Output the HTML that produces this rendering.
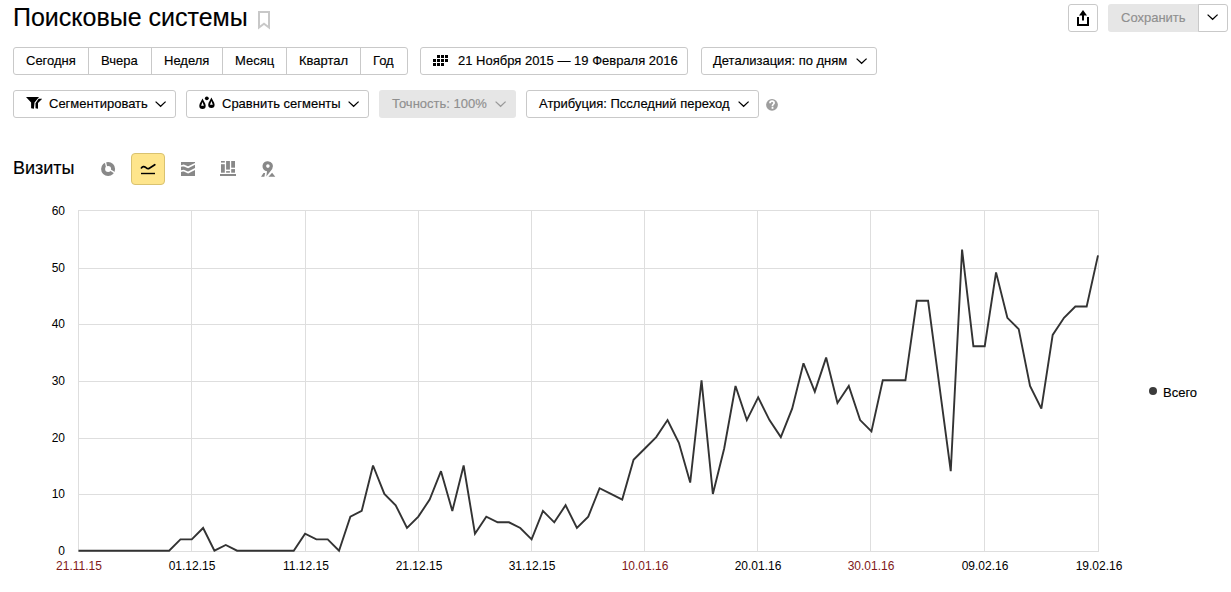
<!DOCTYPE html>
<html><head><meta charset="utf-8">
<style>
*{box-sizing:border-box;margin:0;padding:0}
html,body{width:1231px;height:592px;overflow:hidden;background:#fff;font-family:"Liberation Sans",sans-serif;color:#000}
.t{-webkit-text-stroke:0.15px currentColor}
.a{position:absolute}
.btn{position:absolute;height:28px;border:1px solid #c9c9c9;border-radius:3px;background:#fff;font-size:13px;line-height:26px;white-space:nowrap}
.t{position:absolute;white-space:nowrap}
.grp{position:absolute;left:13px;top:47px;width:395px;height:28px;border:1px solid #c9c9c9;border-radius:3px}
.grp .d{position:absolute;top:0;bottom:0;width:1px;background:#c9c9c9}
.grp .t{font-size:13px;line-height:26px;top:0}
.yl{left:31px;width:34px;text-align:right;font-size:12px;line-height:14px}
.xl{top:560px;width:80px;text-align:center;font-size:12px;line-height:12px}
.red{color:#801818}
.xl,.yl{-webkit-text-stroke:0}
</style></head><body>

<!-- title -->
<div class="t" style="left:13px;top:2px;font-size:25px;line-height:30px">Поисковые системы</div>
<svg class="a" style="left:257px;top:10px" width="14" height="20" viewBox="0 0 14 20"><path d="M2 2 H12 V17.6 L7 13.8 L2 17.6 Z" fill="none" stroke="#c8c8c8" stroke-width="2"/></svg>

<!-- share -->
<div class="btn" style="left:1068px;top:4px;width:30px"></div>
<svg class="a" style="left:1068px;top:4px" width="30" height="28" viewBox="0 0 30 28"><path d="M15 6 L19 11.5 H16 V16.5 H14 V11.5 H11 Z" fill="#000"/><path d="M10 13 V21 H20 V13" fill="none" stroke="#000" stroke-width="2"/></svg>

<!-- save -->
<div class="a" style="left:1108px;top:4px;width:91px;height:28px;background:#e6e6e6;border-radius:3px 0 0 3px"></div>
<div class="t" style="left:1121px;top:4px;font-size:13px;line-height:28px;color:#8f8f8f">Сохранить</div>
<div class="btn" style="left:1198px;top:4px;width:30px;border-radius:0 3px 3px 0"></div>

<!-- period group -->
<div class="grp">
  <div class="d" style="left:74px"></div>
  <div class="d" style="left:137px"></div>
  <div class="d" style="left:208px"></div>
  <div class="d" style="left:272px"></div>
  <div class="d" style="left:346px"></div>
  <div class="t" style="left:12px">Сегодня</div>
  <div class="t" style="left:87px">Вчера</div>
  <div class="t" style="left:150px">Неделя</div>
  <div class="t" style="left:221px">Месяц</div>
  <div class="t" style="left:285px">Квартал</div>
  <div class="t" style="left:359px">Год</div>
</div>

<!-- date range -->
<div class="btn" style="left:420px;top:47px;width:268px"></div>
<svg class="a" style="left:433px;top:55px" width="15" height="11" viewBox="0 0 15 11" fill="#000">
<rect x="4" y="0" width="3" height="3"/><rect x="8" y="0" width="3" height="3"/><rect x="12" y="0" width="3" height="3"/>
<rect x="0" y="4" width="3" height="3"/><rect x="4" y="4" width="3" height="3"/><rect x="8" y="4" width="3" height="3"/><rect x="12" y="4" width="3" height="3"/>
<rect x="0" y="8" width="3" height="3"/><rect x="4" y="8" width="3" height="3"/><rect x="8" y="8" width="3" height="3"/>
</svg>
<div class="t" style="left:458px;top:47px;font-size:13px;line-height:28px">21 Ноября 2015 — 19 Февраля 2016</div>

<!-- detail -->
<div class="btn" style="left:701px;top:47px;width:176px"></div>
<div class="t" style="left:713px;top:47px;font-size:13px;line-height:28px">Детализация: по дням</div>

<!-- row 2 -->
<div class="btn" style="left:13px;top:90px;width:163px"></div>
<svg class="a" style="left:26px;top:97px" width="16" height="12" viewBox="0 0 16 12"><path d="M0 0 H13 L8.5 5.6 L7.9 11.8 L5.1 11.2 L5.1 5.6 Z" fill="#000"/><path d="M12.6 1.8 H16.1 L12 5.9 L12 11.8 L9.5 11.2 L9.5 6.2 Z" fill="#000"/></svg>
<div class="t" style="left:49px;top:90px;font-size:13px;line-height:28px">Сегментировать</div>

<div class="btn" style="left:186px;top:90px;width:183px"></div>
<svg class="a" style="left:198px;top:96px" width="18" height="14" viewBox="0 0 18 14">
<path d="M4.5 2.6 C3.9 4.6 1.3 7.3 1.3 9.7 A3.2 3.2 0 0 0 7.7 9.7 C7.7 7.3 5.1 4.6 4.5 2.6 Z M4.5 6.0 L5.9 9.7 L3.1 9.7 Z" fill="#000" fill-rule="evenodd"/>
<path d="M13.4 1.6 C12.8 3.6 10.2 6.3 10.2 8.7 A3.2 3.2 0 0 0 16.6 8.7 C16.6 6.3 14 3.6 13.4 1.6 Z M13.4 5.0 L14.8 8.7 L12.0 8.7 Z" fill="#000" fill-rule="evenodd"/>
<circle cx="8.8" cy="2.3" r="1.9" fill="#000"/>
</svg>
<div class="t" style="left:222px;top:90px;font-size:13px;line-height:28px">Сравнить сегменты</div>

<div class="a" style="left:379px;top:90px;width:137px;height:28px;background:#e6e6e6;border-radius:3px"></div>
<div class="t" style="left:392px;top:90px;font-size:13px;line-height:28px;color:#8f8f8f">Точность: 100%</div>

<div class="btn" style="left:526px;top:90px;width:233px"></div>
<div class="t" style="left:539px;top:90px;font-size:13px;line-height:28px">Атрибуция: Псследний переход</div>

<svg class="a" style="left:765px;top:98px" width="14" height="14" viewBox="0 0 14 14"><circle cx="7" cy="6.8" r="5.9" fill="#9e9e9e"/><path d="M5 5.2 C5 3.9 5.8 3.2 7.1 3.2 C8.3 3.2 9.1 3.9 9.1 4.9 C9.1 6.1 7.5 6.4 7.5 7.6 L7.5 8.2" fill="none" stroke="#fff" stroke-width="1.7"/><rect x="6.6" y="8.9" width="1.8" height="1.9" fill="#fff"/></svg>

<svg class="a" style="left:1207px;top:14px" width="12" height="7" viewBox="0 0 12 7"><path d="M0.6 0.6 L5.6 5.3 L10.6 0.6" fill="none" stroke="#000" stroke-width="1.25"/></svg>
<svg class="a" style="left:856px;top:58px" width="12" height="7" viewBox="0 0 12 7"><path d="M0.6 0.6 L5.6 5.3 L10.6 0.6" fill="none" stroke="#000" stroke-width="1.25"/></svg>
<svg class="a" style="left:155px;top:101px" width="12" height="7" viewBox="0 0 12 7"><path d="M0.6 0.6 L5.6 5.3 L10.6 0.6" fill="none" stroke="#000" stroke-width="1.25"/></svg>
<svg class="a" style="left:348px;top:101px" width="12" height="7" viewBox="0 0 12 7"><path d="M0.6 0.6 L5.6 5.3 L10.6 0.6" fill="none" stroke="#000" stroke-width="1.25"/></svg>
<svg class="a" style="left:495px;top:101px" width="12" height="7" viewBox="0 0 12 7"><path d="M0.6 0.6 L5.6 5.3 L10.6 0.6" fill="none" stroke="#999" stroke-width="1.25"/></svg>
<svg class="a" style="left:738px;top:101px" width="12" height="7" viewBox="0 0 12 7"><path d="M0.6 0.6 L5.6 5.3 L10.6 0.6" fill="none" stroke="#000" stroke-width="1.25"/></svg>
<!-- visits row -->
<div class="t" style="left:13px;top:157px;font-size:18px;line-height:22px">Визиты</div>
<svg class="a" style="left:100px;top:161px" width="16" height="16" viewBox="0 0 16 16"><circle cx="8.1" cy="8" r="5" fill="none" stroke="#888" stroke-width="4"/><path d="M6.6 6.2 L5.1 -0.5 M10.1 8.9 L15.6 12.4" stroke="#fff" stroke-width="1.3"/></svg>
<div class="a" style="left:131px;top:153px;width:34px;height:32px;background:#fee58c;border:1px solid #d9c270;border-radius:4px"></div>
<svg class="a" style="left:131px;top:153px" width="34" height="32" viewBox="0 0 34 32"><path d="M10.4 14.9 C11.6 13.3 13.1 13.1 14.6 14.3 C15.9 15.4 16.6 16.2 18 15.4 L23.8 11.7" fill="none" stroke="#000" stroke-width="1.7" stroke-linecap="round"/><rect x="10" y="19.8" width="14" height="1.4" fill="#000"/></svg>
<svg class="a" style="left:181px;top:162px" width="14" height="14" viewBox="0 0 14 14"><rect width="14" height="14" fill="#888"/><path d="M-1 4.2 L2.7 3.4 L7.1 5.3 L15 1.4 M-1 9.3 L2.7 8.5 L7.1 10.5 L15 6.5" fill="none" stroke="#fff" stroke-width="1.6"/></svg>
<svg class="a" style="left:220px;top:161px" width="16" height="15" viewBox="0 0 16 15" fill="#888"><rect x="1" y="0" width="3.8" height="1.6"/><rect x="1" y="3.2" width="3.8" height="8.5"/><rect x="6.1" y="0" width="3.8" height="8.6"/><rect x="6.1" y="10.1" width="3.8" height="1.6"/><rect x="11.2" y="0" width="3.8" height="6.7"/><rect x="11.2" y="8.1" width="3.8" height="3.6"/><rect x="0" y="13" width="16" height="2"/></svg>
<svg class="a" style="left:258px;top:158px" width="20" height="20" viewBox="0 0 20 20" fill="#888"><path d="M10 3.2 A5 5 0 0 1 14.2 10.9 L8.3 18.6 L9.0 13.2 A5 5 0 0 1 10 3.2 Z M9.9 6.3 A1.8 1.8 0 1 0 9.9 9.9 A1.8 1.8 0 1 0 9.9 6.3 Z" fill-rule="evenodd"/><path d="M3.0 18.7 L5.5 15.1 L7.1 15.1 L6.4 18.7 Z M10.4 18.7 L14.1 14.8 L17.3 18.7 Z"/></svg>
<!--CHART-->
<svg class="a" style="left:0;top:0" width="1231" height="592" viewBox="0 0 1231 592">
<g fill="#dedede">
<rect x="78" y="210" width="1" height="342"/>
<rect x="191" y="210" width="1" height="342"/>
<rect x="305" y="210" width="1" height="342"/>
<rect x="418" y="210" width="1" height="342"/>
<rect x="531" y="210" width="1" height="342"/>
<rect x="644" y="210" width="1" height="342"/>
<rect x="757" y="210" width="1" height="342"/>
<rect x="870" y="210" width="1" height="342"/>
<rect x="984" y="210" width="1" height="342"/>
<rect x="1098" y="210" width="1" height="342"/>
<rect x="78" y="210" width="1021" height="1"/>
<rect x="78" y="268" width="1021" height="1"/>
<rect x="78" y="324" width="1021" height="1"/>
<rect x="78" y="381" width="1021" height="1"/>
<rect x="78" y="438" width="1021" height="1"/>
<rect x="78" y="494" width="1021" height="1"/>
<rect x="78" y="551" width="1021" height="1"/>
</g>
<polyline points="78.50,550.70 89.83,550.70 101.16,550.70 112.48,550.70 123.81,550.70 135.14,550.70 146.47,550.70 157.79,550.70 169.12,550.70 180.45,539.34 191.78,539.34 203.11,527.98 214.43,550.70 225.76,545.02 237.09,550.70 248.42,550.70 259.74,550.70 271.07,550.70 282.40,550.70 293.73,550.70 305.06,533.66 316.38,539.34 327.71,539.34 339.04,550.70 350.37,516.62 361.69,510.94 373.02,465.50 384.35,493.90 395.68,505.26 407.01,527.98 418.33,516.62 429.66,499.58 440.99,471.18 452.32,510.94 463.64,465.50 474.97,533.66 486.30,516.62 497.63,522.30 508.96,522.30 520.28,527.98 531.61,539.34 542.94,510.94 554.27,522.30 565.59,505.26 576.92,527.98 588.25,516.62 599.58,488.22 610.91,493.90 622.23,499.58 633.56,459.82 644.89,448.46 656.22,437.10 667.54,420.06 678.87,442.78 690.20,482.54 701.53,380.30 712.86,493.90 724.18,448.46 735.51,385.98 746.84,420.06 758.17,397.34 769.49,420.06 780.82,437.10 792.15,408.70 803.48,363.26 814.81,391.66 826.13,357.58 837.46,403.02 848.79,385.98 860.12,420.06 871.44,431.42 882.77,380.30 894.10,380.30 905.43,380.30 916.76,300.78 928.08,300.78 939.41,385.98 950.74,471.18 962.07,249.66 973.39,346.22 984.72,346.22 996.05,272.38 1007.38,317.82 1018.71,329.18 1030.03,385.98 1041.36,408.70 1052.69,334.86 1064.02,317.82 1075.34,306.46 1086.67,306.46 1098.00,255.34" fill="none" stroke="#333" stroke-width="1.9" stroke-linejoin="miter" stroke-miterlimit="3"/>
</svg>
<div class="t yl" style="top:204px">60</div>
<div class="t yl" style="top:261px">50</div>
<div class="t yl" style="top:317px">40</div>
<div class="t yl" style="top:374px">30</div>
<div class="t yl" style="top:431px">20</div>
<div class="t yl" style="top:487px">10</div>
<div class="t yl" style="top:544px">0</div>
<div class="t xl red" style="left:39px">21.11.15</div>
<div class="t xl" style="left:152px">01.12.15</div>
<div class="t xl" style="left:266px">11.12.15</div>
<div class="t xl" style="left:379px">21.12.15</div>
<div class="t xl" style="left:492px">31.12.15</div>
<div class="t xl red" style="left:605px">10.01.16</div>
<div class="t xl" style="left:718px">20.01.16</div>
<div class="t xl red" style="left:831px">30.01.16</div>
<div class="t xl" style="left:945px">09.02.16</div>
<div class="t xl" style="left:1059px">19.02.16</div>
<div class="a" style="left:1149px;top:387px;width:8px;height:8px;border-radius:50%;background:#3b3b3b"></div>
<div class="t" style="left:1163px;top:385px;font-size:13px;line-height:15px">Всего</div>
<!--/CHART-->
</body></html>
